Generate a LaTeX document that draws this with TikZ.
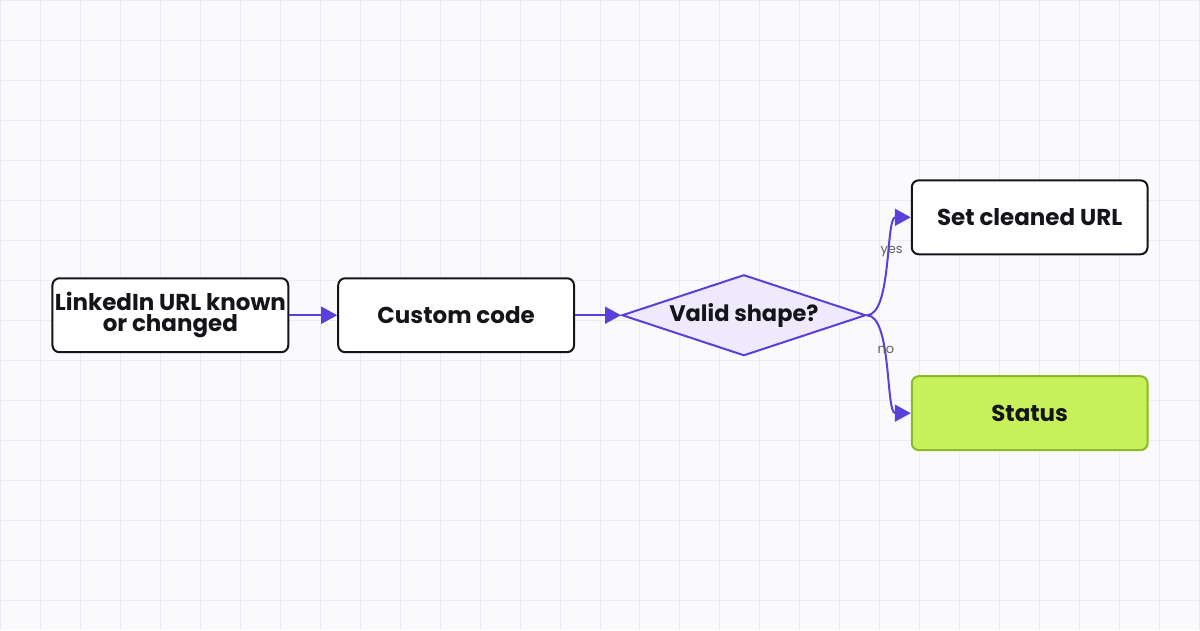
\documentclass[tikz,border=0pt]{standalone}
\usepackage{fontspec}
\setmainfont{Poppins}
\usetikzlibrary{arrows.meta,shapes.geometric,positioning}
\definecolor{flowpurple}{HTML}{5B3FD9}
\definecolor{gridline}{HTML}{EDEBF7}
\definecolor{paper}{HTML}{FAFAFD}
\definecolor{decisionfill}{HTML}{EEEAFB}
\definecolor{limefill}{HTML}{C8F05A}
\definecolor{limeline}{HTML}{8DB82A}
\definecolor{ink}{HTML}{15141A}
\definecolor{labelgray}{HTML}{5F5F6A}
\tikzset{
  stepbox/.style={draw=ink, line width=2pt, rounded corners=7pt, fill=white,
    minimum width=236pt, minimum height=74pt, inner sep=0pt, align=center,
    text=ink, font=\fontsize{23}{21}\selectfont\bfseries},
  statusbox/.style={stepbox, draw=limeline, fill=limefill},
  decision/.style={diamond, aspect=3, draw=flowpurple, line width=2pt, fill=decisionfill,
    minimum width=244pt, minimum height=81pt, inner sep=0pt,
    text=ink, font=\fontsize{22.5}{21}\selectfont\bfseries},
  flow/.style={draw=flowpurple, line width=2pt, -{Triangle[length=16pt,width=17pt]}},
  branch/.style={font=\fontsize{13}{13}\selectfont, text=labelgray, inner sep=1pt}
}
\begin{document}
\begin{tikzpicture}[x=1pt, y=-1pt]
\fill[paper] (0,0) rectangle (1200,630);
\draw[gridline, line width=1pt, step=40pt] (0,0) grid (1200,630);
\useasboundingbox (0,0) rectangle (1200,630);
\node[stepbox] (trigger) at (170,315) {LinkedIn URL known\\or changed};
\node[stepbox] (code) at (456,315) {Custom code};
\node[decision] (check) at (744,315) {Valid shape?};
\node[stepbox] (clean) at (1030,217) {Set cleaned URL};
\node[statusbox] (status) at (1030,413) {Status};
\draw[flow] (trigger) -- (code);
\draw[flow] (code) -- (check);
\draw[flow] (check.east) to[out=0, in=180, looseness=0.6] node[branch, pos=0.6] {yes} (clean.west);
\draw[flow] (check.east) to[out=0, in=180, looseness=0.6] node[branch, pos=0.4] {no} (status.west);
\end{tikzpicture}
\end{document}
